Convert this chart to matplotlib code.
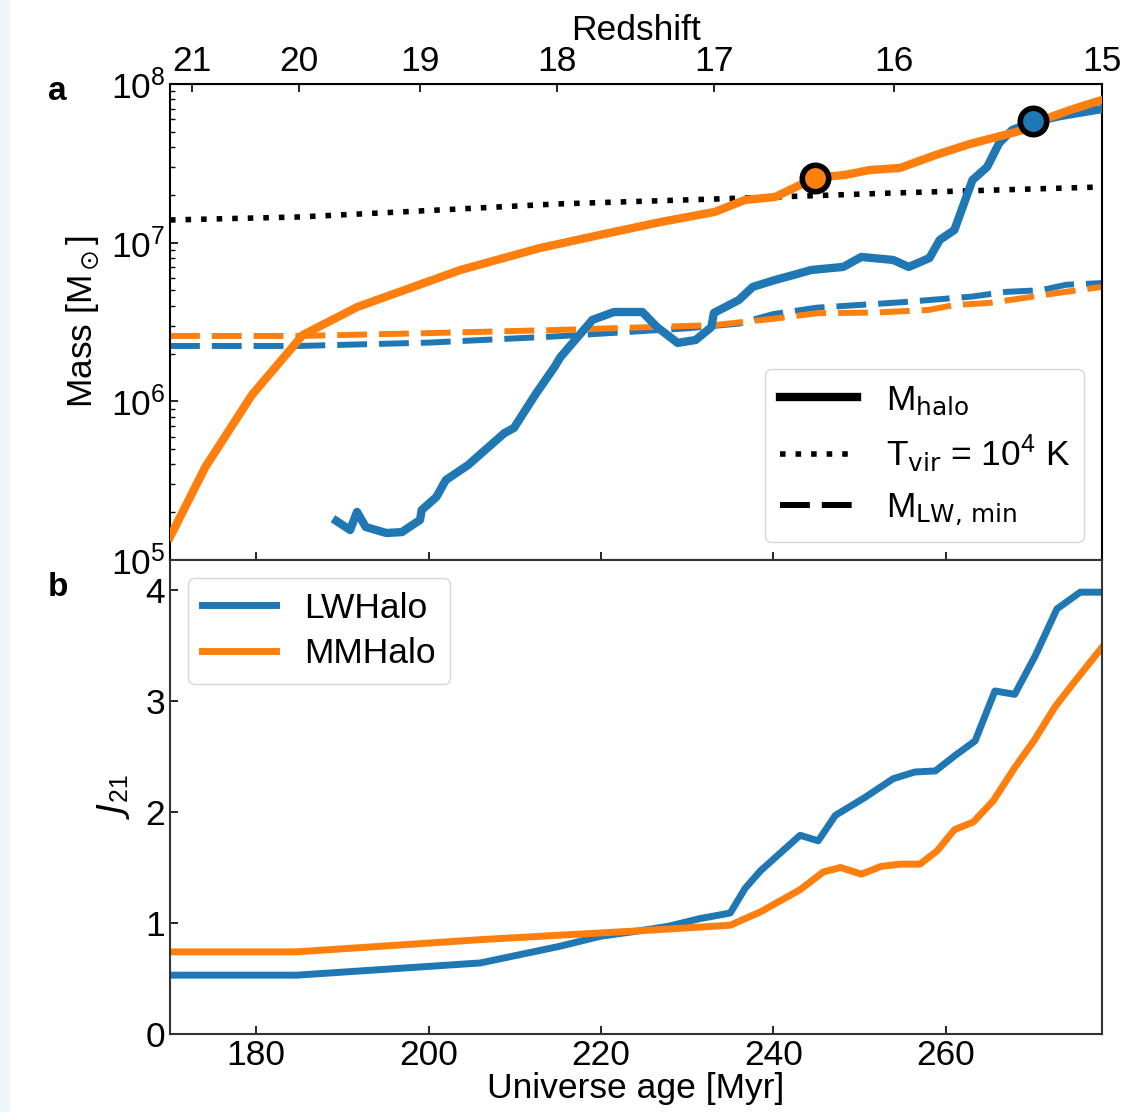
import numpy as np
import matplotlib
matplotlib.use('Agg')
import matplotlib.pyplot as plt
from matplotlib.lines import Line2D
from matplotlib.patches import Rectangle
from matplotlib.ticker import LogLocator, NullFormatter, FixedLocator

plt.rcParams['font.family'] = ['Liberation Sans', 'DejaVu Sans']
plt.rcParams['mathtext.fontset'] = 'dejavusans'
plt.rcParams['mathtext.default'] = 'regular'
plt.rcParams['font.size'] = 25.5

# age (Myr) <-> redshift, matter dominated: t = A (1+z)^-1.5
A_MYR = 17800.0
Z_TICKS = [15, 16, 17, 18, 19, 20, 21]

# panel a: halo masses, log10(M / Msun)
t_lw = [189.3, 190.9, 191.7, 192.7, 195.1, 196.9, 199.0, 199.2, 200.9, 202.0,
        204.6, 205.9, 208.8, 209.9, 212.5, 214.6, 215.3, 217.7, 219.0, 221.5,
        224.8, 226.5, 228.9, 231.0, 232.8, 233.1, 236.0, 237.6, 240.2, 242.3,
        244.4, 248.1, 250.2, 253.9, 255.7, 258.1, 259.3, 261.0, 263.1, 264.8,
        266.2, 267.7, 270.1, 273.3, 278.1]
logm_lw = [5.246, 5.189, 5.303, 5.208, 5.170, 5.176, 5.252, 5.315, 5.397, 5.504,
           5.599, 5.662, 5.800, 5.832, 6.052, 6.216, 6.279, 6.431, 6.513, 6.563,
           6.563, 6.468, 6.368, 6.387, 6.468, 6.557, 6.639, 6.721, 6.765, 6.796,
           6.828, 6.847, 6.910, 6.891, 6.847, 6.903, 7.017, 7.080, 7.395, 7.477,
           7.628, 7.710, 7.760, 7.798, 7.842]

t_mm = [170.0, 174.1, 179.5, 185.4, 191.7, 203.7, 212.9, 219.9, 226.9, 233.2,
        236.7, 240.2, 244.8, 248.3, 251.2, 254.7, 258.8, 262.8, 268.6, 270.9,
        274.4, 278.1]
logm_mm = [5.145, 5.586, 6.040, 6.418, 6.594, 6.828, 6.966, 7.049, 7.130, 7.194,
           7.269, 7.288, 7.408, 7.427, 7.458, 7.471, 7.552, 7.622, 7.704, 7.767,
           7.836, 7.899]

t_vir = [170.0, 185.0, 199.1, 214.9, 233.1, 253.9, 278.1]
logm_vir = [7.143, 7.162, 7.200, 7.244, 7.275, 7.313, 7.351]

t_lwmin_lw = [170.0, 185.0, 200.0, 215.0, 230.0, 236.0, 240.0, 245.0, 255.0,
              263.0, 267.0, 271.0, 274.0, 278.1]
logm_lwmin_lw = [6.349, 6.349, 6.370, 6.410, 6.460, 6.490, 6.550, 6.590, 6.625,
                 6.660, 6.690, 6.700, 6.735, 6.745]
t_lwmin_mm = [170.0, 185.0, 200.0, 215.0, 233.0, 240.0, 245.0, 252.0, 258.0,
              261.0, 265.0, 269.0, 273.0, 278.1]
logm_lwmin_mm = [6.412, 6.412, 6.430, 6.450, 6.480, 6.520, 6.555, 6.560, 6.576,
                 6.607, 6.620, 6.651, 6.683, 6.721]

# collapse points
t_mark = [244.8, 270.1]
logm_mark = [7.408, 7.765]

# panel b: LW intensity J21
t_j_lw = [170.0, 184.7, 206.0, 215.2, 219.9, 224.5, 227.8, 231.5, 235.0, 236.7,
          238.5, 243.1, 245.2, 247.2, 250.6, 253.9, 256.4, 258.8, 261.1, 263.4,
          265.7, 268.0, 270.4, 272.9, 275.6, 278.1]
j_lw = [0.53, 0.53, 0.64, 0.79, 0.88, 0.93, 0.97, 1.04, 1.09, 1.31,
        1.47, 1.79, 1.74, 1.97, 2.13, 2.30, 2.36, 2.37, 2.51, 2.64,
        3.09, 3.06, 3.41, 3.83, 3.98, 3.98]
t_j_mm = [170.0, 184.7, 206.0, 215.2, 224.5, 235.0, 238.5, 243.1, 245.8, 247.8,
          250.2, 252.5, 254.7, 257.0, 259.0, 261.0, 263.2, 265.5, 268.0, 270.3,
          272.7, 274.9, 278.1]
j_mm = [0.74, 0.74, 0.85, 0.89, 0.93, 0.98, 1.10, 1.30, 1.46, 1.50,
        1.44, 1.51, 1.53, 1.53, 1.65, 1.84, 1.91, 2.10, 2.40, 2.65,
        2.95, 3.17, 3.48]

BLUE = '#1f77b4'
ORANGE = '#ff7f0e'


def z_to_t(z):
    return A_MYR * (1.0 + np.asarray(z, dtype=float)) ** -1.5


def t_to_z(t):
    t = np.clip(np.asarray(t, dtype=float), 1e-3, None)
    return (A_MYR / t) ** (2.0 / 3.0) - 1.0


W, H = 1122, 1112
fig = plt.figure(figsize=(W / 100, H / 100), dpi=100)
fig.patches.append(Rectangle((0, 0), 9 / W, 1, transform=fig.transFigure,
                             color='#eef6f9', zorder=-10))

ax1 = fig.add_axes([170 / W, (H - 560) / H, 932 / W, 476 / H])
ax2 = fig.add_axes([170 / W, (H - 1034) / H, 932 / W, 474 / H], sharex=ax1)

m = lambda v: 10.0 ** np.asarray(v)

ax1.plot(t_mm, m(logm_mm), color=ORANGE, lw=6, solid_joinstyle='round', zorder=4)
ax1.plot(t_lw, m(logm_lw), color=BLUE, lw=6, solid_joinstyle='round', zorder=3)
ax1.plot(t_vir, m(logm_vir), color='black', lw=4, ls=(0, (1, 1.8)), zorder=2)
ax1.plot(t_lwmin_lw, m(logm_lwmin_lw), color=BLUE, lw=4.3, ls=(0, (5, 2)), zorder=2)
ax1.plot(t_lwmin_mm, m(logm_lwmin_mm), color=ORANGE, lw=4.3, ls=(0, (5, 2)), zorder=2)
for t, lm, c in zip(t_mark, logm_mark, [ORANGE, BLUE]):
    ax1.plot([t], [10.0 ** lm], 'o', ms=19, mfc=c, mec='black', mew=4, zorder=6)

ax1.set_yscale('log')
ax1.set_ylim(1e5, 1e8)
ax1.set_xlim(170, z_to_t(15))
ax1.yaxis.set_major_locator(LogLocator(base=10, numticks=10))
ax1.yaxis.set_minor_locator(LogLocator(base=10, subs=np.arange(2, 10), numticks=20))
ax1.yaxis.set_minor_formatter(NullFormatter())
ax1.set_ylabel(r'Mass [M$_\odot$]', labelpad=6)
ax1.tick_params(axis='x', labelbottom=False)

handles = [Line2D([], [], color='black', lw=6),
           Line2D([], [], color='black', lw=4, ls=(0, (1, 1.8))),
           Line2D([], [], color='black', lw=4.3, ls=(0, (5, 2)))]
labels = [r'M$_{\mathrm{halo}}$', r'T$_{\mathrm{vir}}$ = 10$^4$ K',
          r'M$_{\mathrm{LW,\,min}}$']
ax1.legend(handles, labels, loc='lower right', handlelength=2.2, fontsize=25.5,
           borderaxespad=0.5, labelspacing=0.45)

sec = ax1.secondary_xaxis('top', functions=(t_to_z, z_to_t))
sec.xaxis.set_major_locator(FixedLocator(Z_TICKS))
sec.set_xlabel('Redshift', labelpad=4)
sec.tick_params(direction='in', length=6, width=1.2, pad=4)

ax2.plot(t_j_lw, j_lw, color=BLUE, lw=5, label='LWHalo')
ax2.plot(t_j_mm, j_mm, color=ORANGE, lw=5, label='MMHalo')
ax2.set_ylim(0, 4.27)
ax2.set_yticks([0, 1, 2, 3, 4])
ax2.set_xticks([180, 200, 220, 240, 260])
ax2.set_xlabel('Universe age [Myr]', labelpad=0)
ax2.set_ylabel(r'$\mathit{J}_{21}$', labelpad=10)
ax2.legend(loc='upper left', handlelength=2.1, fontsize=25.5, borderaxespad=0.5,
           labelspacing=0.35)

for ax in (ax1, ax2):
    ax.tick_params(which='major', direction='in', length=6, width=1.2)
    ax.tick_params(which='minor', direction='in', length=3.5, width=1)
    for s in ax.spines.values():
        s.set_linewidth(1.5)
for s in ax2.spines.values():
    s.set_color('#333333')

fig.text(48 / W, 1 - 92 / H, 'a', fontsize=24, fontweight='bold', va='center')
fig.text(48 / W, 1 - 588 / H, 'b', fontsize=24, fontweight='bold', va='center')

fig.savefig('out.png', dpi=100)
